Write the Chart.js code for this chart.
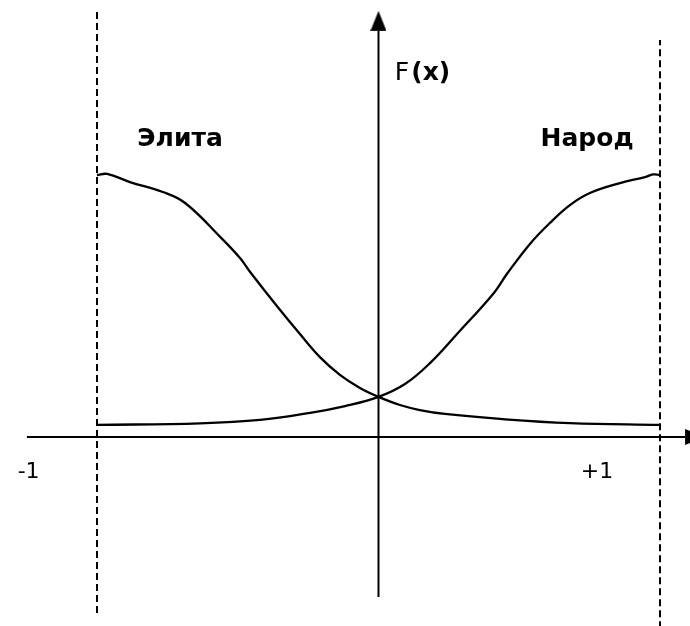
<!DOCTYPE html>
<html>
<head>
<meta charset="utf-8">
<script src="https://cdn.jsdelivr.net/npm/chart.js@4"></script>
<style>
  html, body { margin: 0; padding: 0; background: #fff; }
  canvas { display: block; }
</style>
</head>
<body>
<canvas id="chart" width="690" height="626"></canvas>
<script>
// series (x from -1 to +1, F scaled so the upper plateau is 1)
const narodX = [-1, -0.634, -0.421, -0.243, -0.119, 0, 0.094, 0.183, 0.279, 0.41, 0.456, 0.538, 0.609, 0.68, 0.751, 0.858, 0.947, 0.975, 1];
const narodY = [0.046, 0.052, 0.065, 0.092, 0.118, 0.153, 0.202, 0.282, 0.393, 0.55, 0.622, 0.737, 0.817, 0.885, 0.931, 0.969, 0.992, 1.002, 1];
const elitaX = [-1, -0.964, -0.883, -0.766, -0.687, -0.559, -0.492, -0.456, -0.361, -0.279, -0.208, -0.137, -0.066, 0, 0.076, 0.147, 0.236, 0.432, 0.68, 1];
const elitaY = [1, 1.004, 0.973, 0.935, 0.893, 0.76, 0.683, 0.63, 0.5, 0.393, 0.305, 0.237, 0.187, 0.153, 0.122, 0.103, 0.088, 0.069, 0.053, 0.046];
const seriesNames = ["Элита", "Народ"];
const tickLabels = ["-1", "+1"];
const tickValues = [-1, 1];

function pts(xs, ys) {
  return xs.map((v, i) => ({ x: v, y: ys[i] }));
}

// arrow head used as point style at the axis ends
function makeArrow() {
  const c = document.createElement("canvas");
  c.width = 40;
  c.height = 16;
  const g = c.getContext("2d");
  g.fillStyle = "#000";
  g.beginPath();
  g.moveTo(20, 0);
  g.lineTo(40, 8);
  g.lineTo(20, 16);
  g.closePath();
  g.fill();
  return c;
}
const arrow = makeArrow();

const FONT = '"DejaVu Sans", Verdana, sans-serif';

const textPlugin = {
  id: "texts",
  afterDatasetsDraw(chart) {
    const { ctx, scales: { x, y } } = chart;
    ctx.save();
    ctx.fillStyle = "#000";
    ctx.textBaseline = "alphabetic";

    // series names
    ctx.font = "bold 25px " + FONT;
    ctx.textAlign = "center";
    ctx.fillText(seriesNames[0], x.getPixelForValue(-0.705), y.getPixelForValue(1.111));
    ctx.fillText(seriesNames[1], x.getPixelForValue(0.741), y.getPixelForValue(1.111));

    // -1 / +1
    ctx.font = "22px " + FONT;
    ctx.fillText(tickLabels[0], x.getPixelForValue(-1.243), y.getPixelForValue(-0.156));
    ctx.fillText(tickLabels[1], x.getPixelForValue(0.776), y.getPixelForValue(-0.156));

    // F(x)
    ctx.textAlign = "left";
    let px = x.getPixelForValue(0.058);
    const py = y.getPixelForValue(1.362);
    ctx.font = "25px " + FONT;
    ctx.fillText("F", px, py);
    px += ctx.measureText("F").width + 2;
    ctx.font = "bold 25px " + FONT;
    ctx.fillText("(x)", px, py);
    ctx.restore();
  }
};

const line = { borderColor: "#000", borderWidth: 2, pointRadius: 0, fill: false };

new Chart(document.getElementById("chart"), {
  type: "scatter",
  data: {
    datasets: [
      // curves
      Object.assign({ label: seriesNames[1], data: pts(narodX, narodY), showLine: true, tension: 0.4 }, line, { borderWidth: 2.3 }),
      Object.assign({ label: seriesNames[0], data: pts(elitaX, elitaY), showLine: true, tension: 0.4 }, line, { borderWidth: 2.3 }),
      // dashed bounds at -1 and +1
      Object.assign({}, line, { data: [{ x: tickValues[0], y: -0.672 }, { x: tickValues[0], y: 1.63 }], showLine: true, borderDash: [7, 4] }),
      Object.assign({}, line, { data: [{ x: tickValues[1], y: -0.73 }, { x: tickValues[1], y: 1.515 }], showLine: true, borderDash: [7, 4] }),
      // axes with arrows
      Object.assign({}, line, {
        data: [{ x: -1.249, y: 0 }, { x: 1.089, y: 0 }], showLine: true,
        pointRadius: [0, 10], pointStyle: ["circle", arrow], pointRotation: 0
      }),
      Object.assign({}, line, {
        data: [{ x: 0, y: -0.611 }, { x: 0, y: 1.55 }], showLine: true,
        pointRadius: [0, 10], pointStyle: ["circle", arrow], pointRotation: -90
      })
    ]
  },
  options: {
    responsive: false,
    animation: false,
    events: [],
    layout: { padding: 0, autoPadding: false },
    plugins: {
      legend: { display: false },
      tooltip: { enabled: false }
    },
    scales: {
      x: { type: "linear", min: -1.3446, max: 1.1066, display: false },
      y: { type: "linear", min: -0.7214, max: 1.6679, display: false }
    }
  },
  plugins: [textPlugin]
});
</script>
</body>
</html>
